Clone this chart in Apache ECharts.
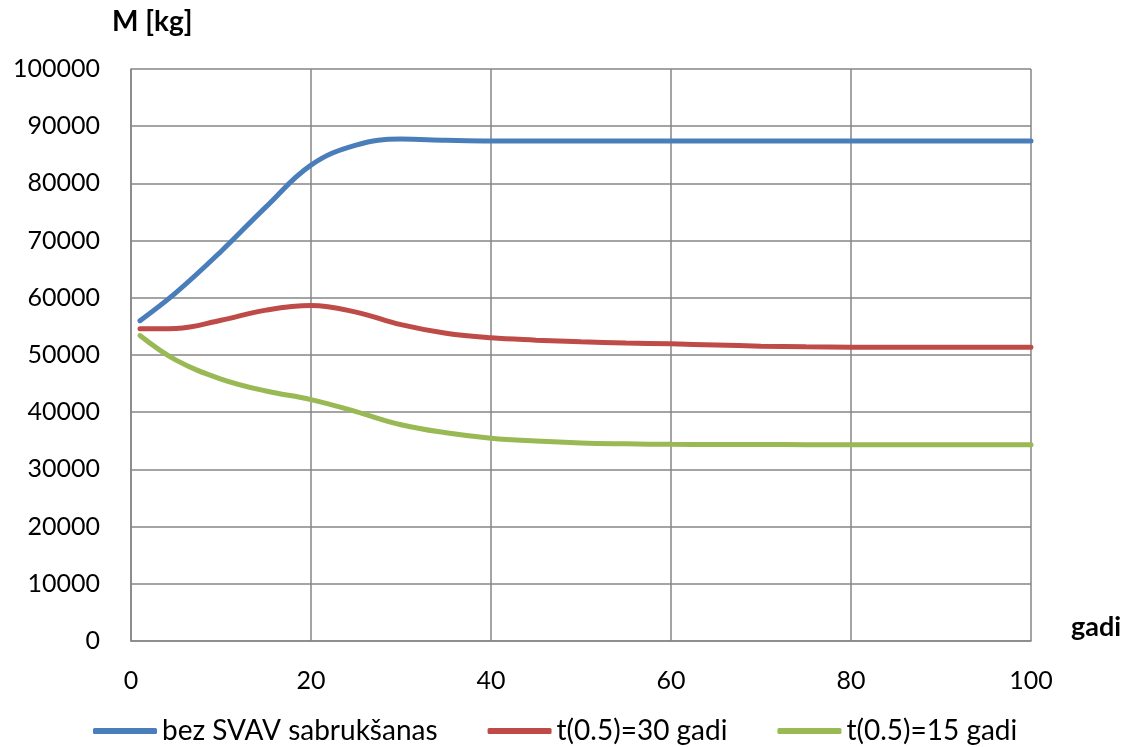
<!DOCTYPE html>
<html>
<head>
<meta charset="utf-8">
<script src="https://cdn.jsdelivr.net/npm/echarts@6/dist/echarts.min.js"></script>
<style>
html,body{margin:0;padding:0;background:#fff;}
#chart{width:1128px;height:747px;}
</style>
</head>
<body>
<div id="chart"></div>
<script>
const years = [1, 5, 10, 15, 20, 25, 30, 35, 40, 45, 50, 55, 60, 65, 70, 75, 80, 85, 90, 95, 100];
const bezSVAV = [56000, 60900, 68100, 75900, 83200, 86700, 87750, 87550, 87430, 87430, 87430, 87430, 87430, 87430, 87430, 87430, 87430, 87430, 87430, 87430, 87430];
const t30 = [54570, 54650, 56080, 57850, 58650, 57500, 55300, 53800, 53000, 52600, 52300, 52100, 51950, 51750, 51550, 51430, 51370, 51360, 51360, 51360, 51370];
const t15 = [53400, 49100, 45800, 43700, 42200, 40100, 37800, 36400, 35450, 34950, 34620, 34470, 34380, 34360, 34350, 34330, 34320, 34310, 34300, 34300, 34300];
const seriesNames = ['bez SVAV sabrukšanas', 't(0.5)=30 gadi', 't(0.5)=15 gadi'];
const colors = ['#4a7ebb', '#be4b48', '#98b954'];
const yTitle = 'M [kg]';
const xTitle = 'gadi';

const pair = arr => years.map((x, i) => [x, arr[i]]);
const allData = [bezSVAV, t30, t15];
const font = 'Lato, "Open Sans", sans-serif';

const chart = echarts.init(document.getElementById('chart'));
chart.setOption({
  animation: false,
  backgroundColor: '#fff',
  grid: {left: 131, right: 97, top: 69, bottom: 106, containLabel: false},
  xAxis: {
    type: 'value', min: 0, max: 100, interval: 20,
    axisLine: {show: true, lineStyle: {color: '#868686', width: 1.5}},
    axisTick: {show: false},
    splitLine: {show: true, lineStyle: {color: '#868686', width: 1.5}},
    axisLabel: {color: '#000', fontSize: 25, fontFamily: font, margin: 27}
  },
  yAxis: {
    type: 'value', min: 0, max: 100000, interval: 10000,
    axisLine: {show: true, lineStyle: {color: '#868686', width: 1.5}},
    axisTick: {show: false},
    splitLine: {show: true, lineStyle: {color: '#868686', width: 1.5}},
    axisLabel: {color: '#000', fontSize: 25, fontFamily: font, margin: 31, formatter: v => String(v)}
  },
  legend: {
    bottom: -3, left: 88,
    itemWidth: 64, itemHeight: 6, itemGap: 50,
    icon: 'roundRect',
    textStyle: {color: '#000', fontSize: 28, fontFamily: font},
    data: seriesNames
  },
  graphic: [
    {type: 'text', left: 112, top: 8, style: {text: yTitle, font: 'bold 28px ' + font, fill: '#000'}},
    {type: 'text', left: 1071, top: 614, style: {text: xTitle, font: 'bold 27px ' + font, fill: '#000'}}
  ],
  series: seriesNames.map((name, i) => ({
    name: name,
    type: 'line',
    data: pair(allData[i]),
    smooth: 0.4,
    showSymbol: false,
    symbol: 'none',
    lineStyle: {color: colors[i], width: 5, cap: 'round'},
    itemStyle: {color: colors[i]}
  }))
});
</script>
</body>
</html>
